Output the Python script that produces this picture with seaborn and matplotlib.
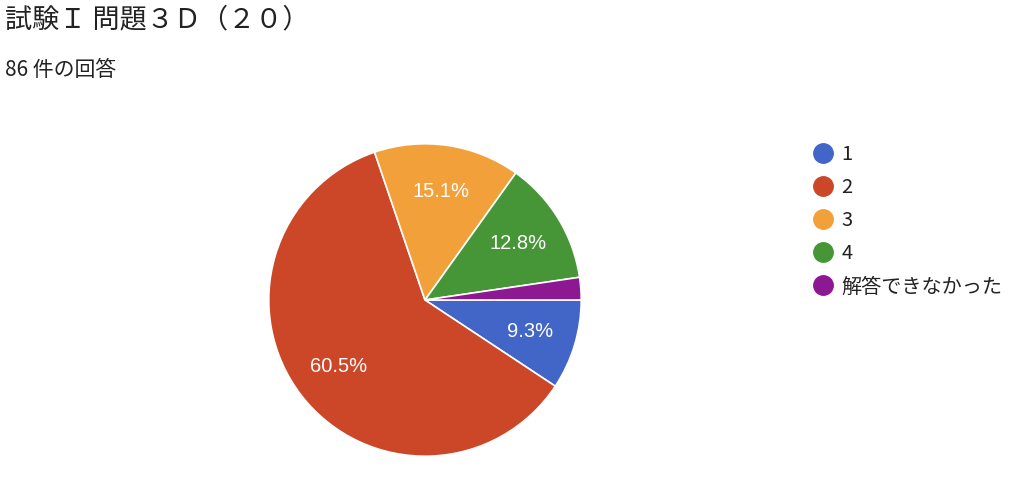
import matplotlib.pyplot as plt
import seaborn as sns
from matplotlib.lines import Line2D

title = "試験Ｉ 問題３Ｄ（２０）"
subtitle = "86 件の回答"
labels = ["1", "2", "3", "4", "解答できなかった"]
counts = [8, 52, 13, 11, 2]
colors = ["#4166C8", "#CC4728", "#F1A03A", "#469637", "#8C1991"]

sns.set_theme(style="white")
plt.rcParams['font.family'] = ['Noto Sans CJK JP', 'DejaVu Sans']

fig = plt.figure(figsize=(10.24, 4.82), dpi=100)
pal = sns.color_palette(colors)

# pie axes placed so the circle sits where the reference has it
ax = fig.add_axes([268 / 1024, 25 / 482, 314 / 1024, 314 / 482])

def pct(p):
    return f"{p:.1f}%" if p >= 5 else ""

wedges, texts, autotexts = ax.pie(
    counts, colors=pal, startangle=0, counterclock=False,
    autopct=pct, pctdistance=0.7,
    wedgeprops=dict(edgecolor="white", linewidth=1.2),
    textprops=dict(color="white", fontsize=14.5, family=['Liberation Sans']),
)
ax.set_xlim(-1.005, 1.005)
ax.set_ylim(-1.005, 1.005)
ax.set_aspect("equal")

fig.text(5 / 1024, 1 - 20 / 482, title, fontsize=19.5, color="#222222", va="center", ha="left")
fig.text(5 / 1024, 1 - 70 / 482, subtitle, fontsize=15, color="#222222", va="center", ha="left")

handles = [Line2D([0], [0], marker="o", linestyle="", markersize=14,
                  markerfacecolor=c, markeredgecolor=c) for c in pal]
leg = fig.legend(handles, labels, loc="upper left",
                 bbox_to_anchor=(793 / 1024, 1 - 126 / 482),
                 frameon=False, fontsize=14.5, handletextpad=0.3,
                 labelspacing=0.6, handlelength=1.2, labelcolor="#222222")

fig.savefig("out.png", dpi=100)
